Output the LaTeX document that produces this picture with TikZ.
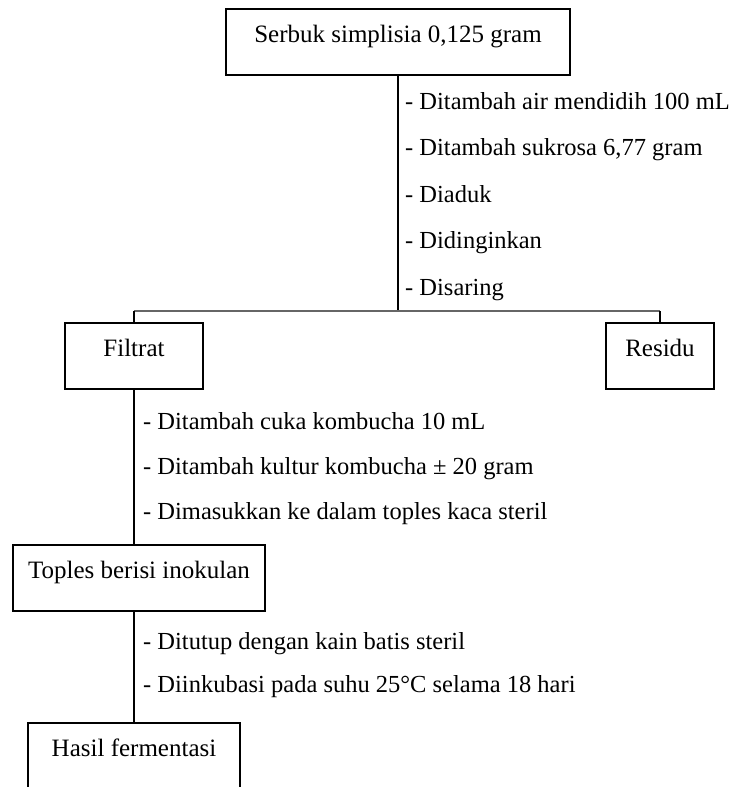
\documentclass[tikz,border=0pt]{standalone}
\usepackage{fontspec}
\setmainfont{Liberation Serif}
\usetikzlibrary{calc}

\begin{document}
\begin{tikzpicture}[x=1pt, y=-1pt,
		box/.style={draw, line width=1.1pt, inner sep=0pt, text height=33pt, text depth=33pt, font=\fontsize{25}{30}\selectfont},
		note/.style={anchor=base west, inner sep=0pt, font=\fontsize{24.5}{30}\selectfont},
		link/.style={line width=1.1pt},
		bar/.style={line width=1.6pt, color=black!60}]
		%%%%% START %%%%%
		
		\useasboundingbox (0, 0) rectangle (736, 787);
		
		\node[box, minimum width=344pt] (serbuk) at (398, 42) {Serbuk simplisia 0,125 gram};
		\node[box, minimum width=138pt] (filtrat) at (134, 356) {Filtrat};
		\node[box, minimum width=108pt] (residu) at (660, 356) {Residu};
		\node[box, minimum width=252pt] (toples) at (139, 578) {Toples berisi inokulan};
		\node[box, minimum width=212pt] (hasil) at (134, 756) {Hasil fermentasi};
		
		\coordinate (pisah) at (398, 311);
		\draw[link] (serbuk.south) -- (pisah);
		\draw[bar] (pisah -| filtrat.north) -- (pisah -| residu.north);
		\draw[link] (pisah -| filtrat.north) -- (filtrat.north);
		\draw[link] (pisah -| residu.north) -- (residu.north);
		\draw[link] (filtrat.south) -- (filtrat.south |- toples.north);
		\draw[link] (toples.south -| hasil.north) -- (hasil.north);
		
		\node[note] (a1) at (405, 109) {- Ditambah air mendidih 100 mL};
		\node[note] (a2) at (405, 155.5) {- Ditambah sukrosa 6,77 gram};
		\node[note] (a3) at (405, 202) {- Diaduk};
		\node[note] (a4) at (405, 248.5) {- Didinginkan};
		\node[note] (a5) at (405, 295) {- Disaring};
		
		\node[note] (b1) at (143, 429) {- Ditambah cuka kombucha 10 mL};
		\node[note] (b2) at (143, 474) {- Ditambah kultur kombucha ± 20 gram};
		\node[note] (b3) at (143, 519) {- Dimasukkan ke dalam toples kaca steril};
		
		\node[note] (c1) at (143, 649) {- Ditutup dengan kain batis steril};
		\node[note] (c2) at (143, 692) {- Diinkubasi pada suhu 25°C selama 18 hari};
		
		%%%%% END %%%%%
	\end{tikzpicture}
\end{document}
